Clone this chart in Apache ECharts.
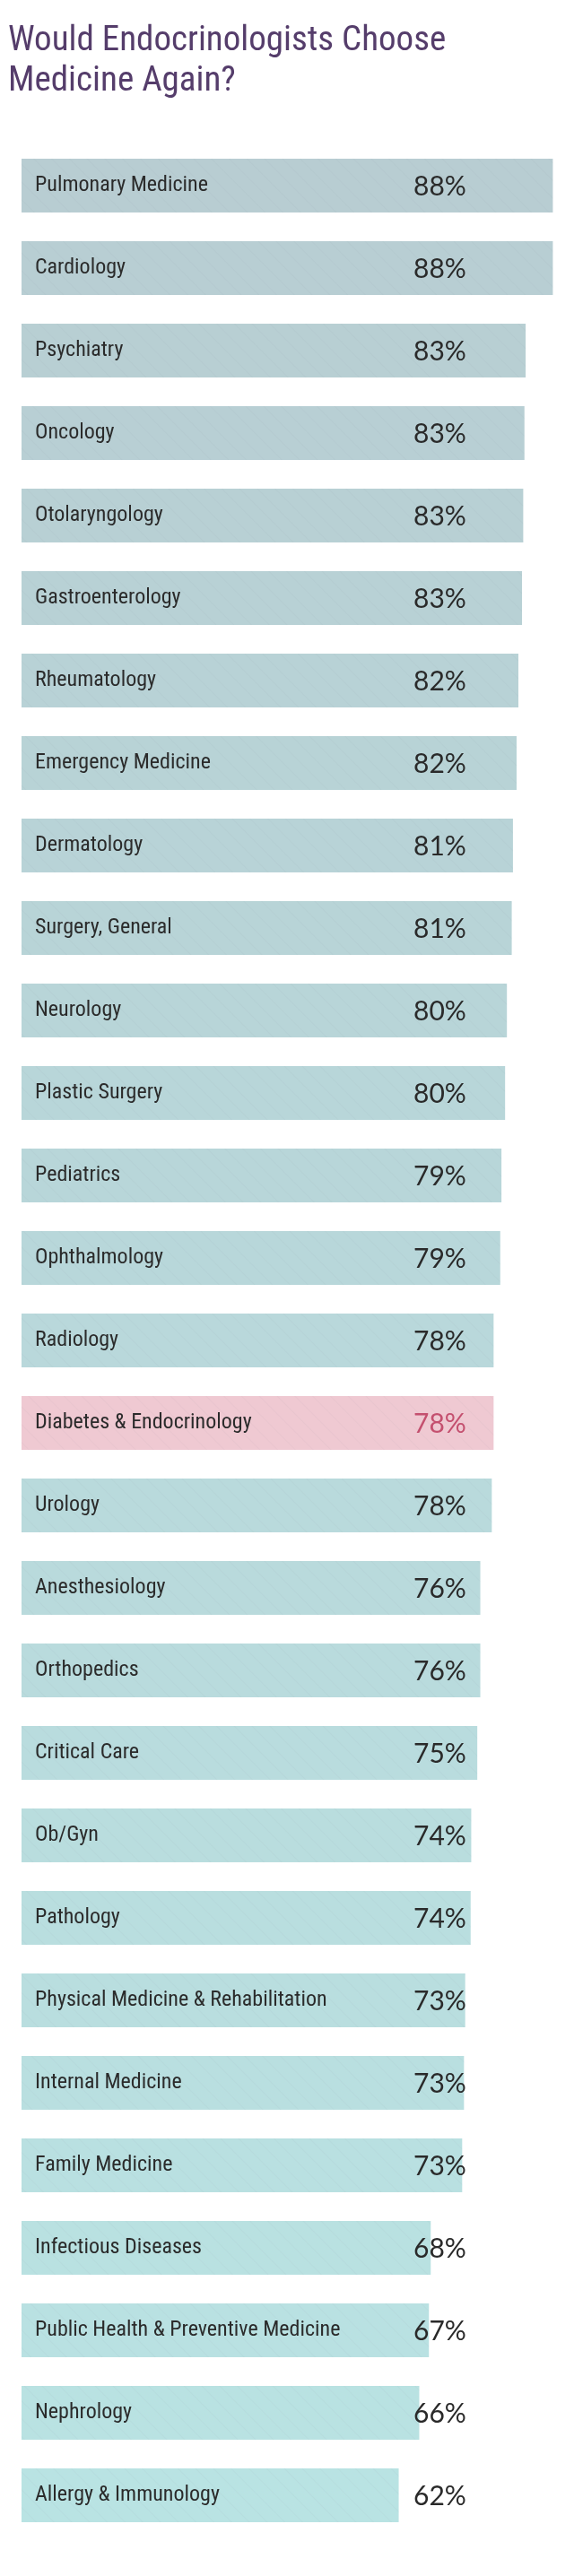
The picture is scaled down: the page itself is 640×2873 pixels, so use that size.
<!DOCTYPE html>
<html>
<head>
<meta charset="utf-8">
<script src="https://cdn.jsdelivr.net/npm/echarts@6/dist/echarts.min.js"></script>
<style>
  html, body { margin: 0; padding: 0; background: #fff; }
  #main { width: 640px; height: 2873px; }
</style>
</head>
<body>
<div id="main"></div>
<script>
// specialties, top to bottom
var categories = [
  'Pulmonary Medicine', 'Cardiology', 'Psychiatry', 'Oncology', 'Otolaryngology',
  'Gastroenterology', 'Rheumatology', 'Emergency Medicine', 'Dermatology', 'Surgery, General',
  'Neurology', 'Plastic Surgery', 'Pediatrics', 'Ophthalmology', 'Radiology',
  'Diabetes & Endocrinology', 'Urology', 'Anesthesiology', 'Orthopedics', 'Critical Care',
  'Ob/Gyn', 'Pathology', 'Physical Medicine & Rehabilitation', 'Internal Medicine', 'Family Medicine',
  'Infectious Diseases', 'Public Health & Preventive Medicine', 'Nephrology', 'Allergy & Immunology'
];
// % who would choose medicine again
var values = [
  87.9, 87.9, 83.4, 83.2, 83.0,
  82.8, 82.2, 81.9, 81.3, 81.1,
  80.3, 80.0, 79.4, 79.2, 78.1,
  78.1, 77.8, 75.9, 75.9, 75.4,
  74.4, 74.3, 73.4, 73.2, 72.9,
  67.7, 67.4, 65.8, 62.4
];
var highlight = 'Diabetes & Endocrinology';

var condensed = '"Roboto Condensed", "Liberation Sans Narrow", "DejaVu Sans Condensed", Roboto, sans-serif';

// bars fade from grey-blue at the top to pale cyan at the bottom
function barColor(i) {
  var a = [184, 205, 210], b = [185, 227, 227];
  var t = i / (categories.length - 1);
  var c = a.map(function (v, k) { return Math.round(v + (b[k] - v) * t); });
  return 'rgb(' + c.join(',') + ')';
}

var chart = echarts.init(document.getElementById('main'));
chart.setOption({
  backgroundColor: '#fff',
  animation: false,
  title: {
    text: 'Would Endocrinologists Choose\nMedicine Again?',
    left: 4,
    top: 19,
    textStyle: {
      color: '#553d6b',
      fontFamily: condensed,
      fontWeight: 'normal',
      fontSize: 39,
      lineHeight: 45
    }
  },
  // plot spans x 24..640, about 6.74 px per percentage point
  grid: { left: 24, top: 161, right: 0, height: 2668 },
  xAxis: { type: 'value', min: 0, max: 91.4, show: false },
  yAxis: {
    type: 'category',
    inverse: true,
    data: categories,
    axisLine: { show: false },
    axisTick: { show: false },
    splitLine: { show: false },
    axisLabel: {
      inside: true,
      margin: 15,
      color: '#2b2b2b',
      fontFamily: condensed,
      fontSize: 24,
      padding: [0, 0, 6, 0]
    },
    z: 5
  },
  series: [{
    type: 'bar',
    barWidth: 60,
    data: values.map(function (v, i) {
      var hl = categories[i] === highlight;
      return {
        value: v,
        itemStyle: { color: hl ? '#efc9d2' : barColor(i) },
        label: { color: hl ? '#c4506f' : '#2a2a2a' }
      };
    }),
    itemStyle: {
      decal: {
        symbol: 'rect',
        symbolSize: 1,
        dashArrayX: [1, 0],
        dashArrayY: [1, 13],
        rotation: Math.PI / 4,
        color: 'rgba(120,120,140,0.05)'
      }
    },
    label: {
      show: true,
      position: [437, 31],
      align: 'left',
      verticalAlign: 'middle',
      fontFamily: 'Lato, "Open Sans", sans-serif',
      fontWeight: 'normal',
      fontSize: 30,
      formatter: function (p) { return Math.round(p.value) + '%'; }
    }
  }]
});
</script>
</body>
</html>
